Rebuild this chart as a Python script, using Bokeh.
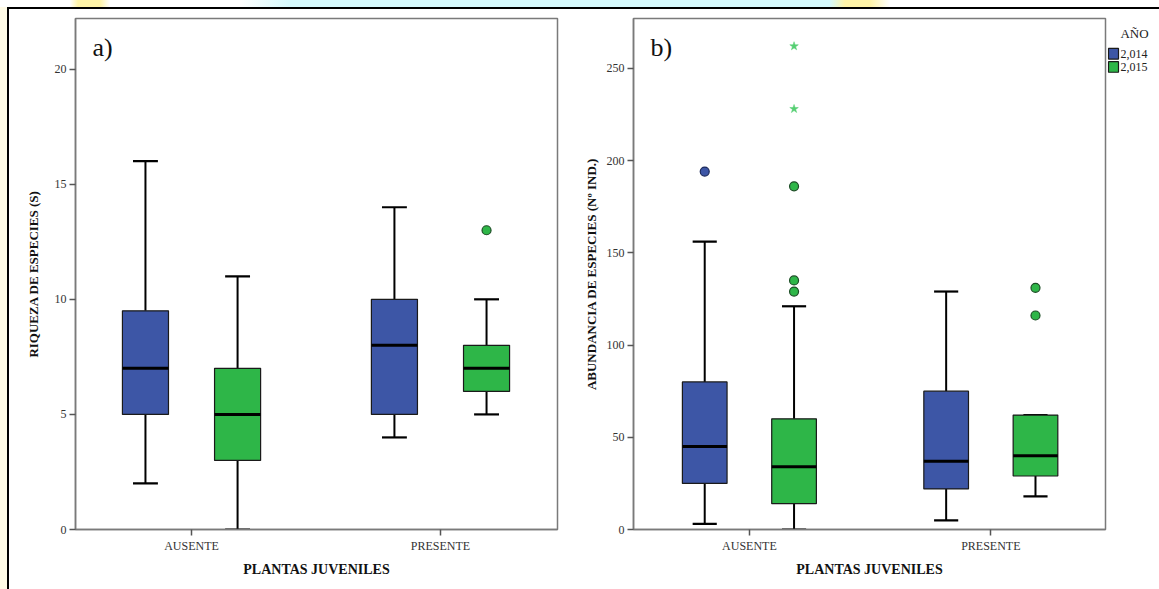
from bokeh.plotting import figure
from bokeh.models import (ColumnDataSource, Range1d, FixedTicker, Label, Div)
from bokeh.core.properties import value
from bokeh.layouts import row, column
from bokeh.embed import file_html
from bokeh.resources import INLINE

# ---------------- data ----------------
categories = ["AUSENTE", "PRESENTE"]
years = ["2,014", "2,015"]
legend_title = "AÑO"

# a) Riqueza de especies (S)
riq_2014_lower = [2, 4]
riq_2014_q1 = [5, 5]
riq_2014_median = [7, 8]
riq_2014_q3 = [9.5, 10]
riq_2014_upper = [16, 14]

riq_2015_lower = [0, 5]
riq_2015_q1 = [3, 6]
riq_2015_median = [5, 7]
riq_2015_q3 = [7, 8]
riq_2015_upper = [11, 10]
riq_2015_out_cat = ["PRESENTE"]
riq_2015_out_val = [13]

riq_ticks = [0, 5, 10, 15, 20]

# b) Abundancia de especies (Nº ind.)
abu_2014_lower = [3, 5]
abu_2014_q1 = [25, 22]
abu_2014_median = [45, 37]
abu_2014_q3 = [80, 75]
abu_2014_upper = [156, 129]
abu_2014_out_cat = ["AUSENTE"]
abu_2014_out_val = [194]

abu_2015_lower = [0, 18]
abu_2015_q1 = [14, 29]
abu_2015_median = [34, 40]
abu_2015_q3 = [60, 62]
abu_2015_upper = [121, 62]
abu_2015_out_cat = ["AUSENTE", "AUSENTE", "AUSENTE", "PRESENTE", "PRESENTE"]
abu_2015_out_val = [186, 135, 129, 131, 116]
abu_2015_ext_cat = ["AUSENTE", "AUSENTE"]
abu_2015_ext_val = [262, 228]

abu_ticks = [0, 50, 100, 150, 200, 250]

# ---------------- style ----------------
SERIF = "Liberation Serif"
COL_2014 = "#3d56a6"
COL_2015 = "#2eb648"
COL_EXT = "#55cf72"
YEAR_COLORS = [COL_2014, COL_2015]
BOX_W = 0.185
OFFSET = 0.185
CAP_W = 0.1


def cat_pos(cat_list, off):
    return [categories.index(c) + 1 + off for c in cat_list]


def draw_series(p, lower, q1, med, q3, upper, color, off):
    x = [i + 1 + off for i in range(len(categories))]
    src = ColumnDataSource(dict(
        x=x, lower=lower, q1=q1, med=med, q3=q3, upper=upper,
        cl=[v - CAP_W / 2 for v in x], cr=[v + CAP_W / 2 for v in x],
        bl=[v - BOX_W / 2 for v in x], br=[v + BOX_W / 2 for v in x],
    ))
    p.segment(x0="x", y0="lower", x1="x", y1="q1", source=src,
              line_color="black", line_width=2)
    p.segment(x0="x", y0="q3", x1="x", y1="upper", source=src,
              line_color="black", line_width=2)
    p.segment(x0="cl", y0="lower", x1="cr", y1="lower", source=src,
              line_color="black", line_width=2.2)
    p.segment(x0="cl", y0="upper", x1="cr", y1="upper", source=src,
              line_color="black", line_width=2.2)
    r = p.vbar(x="x", width=BOX_W, bottom="q1", top="q3", source=src,
               fill_color=color, line_color="#1a1a1a", line_width=1.2)
    p.segment(x0="bl", y0="med", x1="br", y1="med", source=src,
              line_color="black", line_width=3)
    return r


def style_panel(p, ylabel, ticks, tag):
    p.xgrid.visible = False
    p.ygrid.visible = False
    p.outline_line_color = "#7a7a7a"
    p.outline_line_width = 1.5
    p.background_fill_color = "white"
    p.border_fill_color = "white"
    for ax in (p.xaxis[0], p.yaxis[0]):
        ax.axis_line_color = "#7a7a7a"
        ax.axis_line_width = 1.5
        ax.major_tick_line_color = "#555555"
        ax.major_tick_line_width = 1.5
        ax.major_tick_in = 0
        ax.major_tick_out = 6
        ax.minor_tick_line_color = None
        ax.major_label_text_font = SERIF
        ax.major_label_text_font_size = "12px"
        ax.major_label_text_color = "#333333"
        ax.axis_label_text_font = SERIF
        ax.axis_label_text_font_style = "bold"
        ax.axis_label_text_color = "#111111"
    p.xaxis.ticker = FixedTicker(ticks=[1, 2])
    p.xaxis.major_label_overrides = {i + 1: c for i, c in enumerate(categories)}
    p.xaxis.axis_label = "PLANTAS JUVENILES"
    p.xaxis.axis_label_text_font_size = "14px"
    p.xaxis.major_label_standoff = 3
    p.xaxis.axis_label_standoff = 6
    p.yaxis.ticker = FixedTicker(ticks=ticks)
    p.yaxis.axis_label = ylabel
    p.yaxis.axis_label_text_font_size = "13px"
    p.yaxis.major_label_standoff = 3
    p.add_layout(Label(x=17, y=497, x_units="screen", y_units="screen", text=tag,
                       text_font=SERIF, text_font_size="26px", text_color="#111111",
                       text_baseline="top"))


# ---------------- panel a ----------------
p1 = figure(width=571, height=580, x_range=Range1d(0.534, 2.47), y_range=Range1d(0, 22.2),
            output_backend="svg", toolbar_location=None,
            min_border_left=66, min_border_right=23, min_border_top=9, min_border_bottom=60)
draw_series(p1, riq_2014_lower, riq_2014_q1, riq_2014_median, riq_2014_q3, riq_2014_upper,
            COL_2014, -OFFSET)
draw_series(p1, riq_2015_lower, riq_2015_q1, riq_2015_median, riq_2015_q3, riq_2015_upper,
            COL_2015, OFFSET)
p1.scatter(x=cat_pos(riq_2015_out_cat, OFFSET), y=riq_2015_out_val, marker="circle", size=9,
           fill_color=COL_2015, line_color="#1d4d26", line_width=1.2)
style_panel(p1, "RIQUEZA DE ESPECIES (S)", riq_ticks, "a)")
p1.yaxis.axis_label_standoff = 11

# ---------------- panel b ----------------
p2 = figure(width=527, height=580, x_range=Range1d(0.52, 2.475), y_range=Range1d(0, 277),
            output_backend="svg", toolbar_location=None,
            min_border_left=48, min_border_right=2, min_border_top=9, min_border_bottom=60)
draw_series(p2, abu_2014_lower, abu_2014_q1, abu_2014_median, abu_2014_q3,
            abu_2014_upper, COL_2014, -OFFSET)
draw_series(p2, abu_2015_lower, abu_2015_q1, abu_2015_median, abu_2015_q3,
            abu_2015_upper, COL_2015, OFFSET)
p2.scatter(x=cat_pos(abu_2014_out_cat, -OFFSET), y=abu_2014_out_val, marker="circle", size=9,
           fill_color=COL_2014, line_color="#1c2a5c", line_width=1.2)
p2.scatter(x=cat_pos(abu_2015_out_cat, OFFSET), y=abu_2015_out_val, marker="circle", size=9,
           fill_color=COL_2015, line_color="#1d4d26", line_width=1.2)
p2.scatter(x=cat_pos(abu_2015_ext_cat, OFFSET), y=abu_2015_ext_val, marker="star", size=9,
           fill_color=COL_EXT, line_color=COL_EXT, line_width=0.5)
style_panel(p2, "ABUNDANCIA DE ESPECIES (Nº IND.)", abu_ticks, "b)")
p2.yaxis.axis_label_standoff = 5

# ---------------- legend strip (right of panel b) ----------------
# pixel-like ranges: x from the strip's left edge, y downwards from its top
p3 = figure(width=52, height=580, x_range=Range1d(0, 52), y_range=Range1d(580, 0),
            output_backend="svg", toolbar_location=None,
            x_axis_location=None, y_axis_location=None,
            min_border_left=0, min_border_right=0, min_border_top=0, min_border_bottom=0)
p3.xgrid.visible = False
p3.ygrid.visible = False
p3.outline_line_color = None
p3.border_fill_color = "white"
p3.background_fill_color = "white"
leg_y = [40 + 15 * i for i in range(len(years))]
leg_src = ColumnDataSource(dict(label=years, color=YEAR_COLORS, y=leg_y,
                                xs=[6] * len(years), xt=[13] * len(years)))
p3.rect(x="xs", y="y", width=10, height=12, source=leg_src,
        fill_color="color", line_color="#1a1a1a", line_width=1.2)
p3.text(x="xt", y="y", text="label", source=leg_src,
        text_font=value(SERIF), text_font_size="12px", text_color="#222222",
        text_baseline="middle", text_align="left")
p3.text(x=[27], y=[17], text=[legend_title],
        text_font=value(SERIF), text_font_size="13px", text_color="#222222",
        text_baseline="middle", text_align="center")

# ---------------- page frame ----------------
top_strip = Div(width=1159, height=7, margin=0, styles={
    "background": "linear-gradient(90deg, #ffffff 0px, #ffffff 70px, #fff4a8 78px, #fff4a8 100px, "
                  "#ffffff 110px, #ffffff 240px, #d6fafd 290px, #d6fafd 830px, #fff4a8 845px, "
                  "#fff4a8 870px, #ffffff 890px)"})
left_strip = Div(width=7, height=582, margin=0, styles={"background-color": "#fffbe6"})
left_line = Div(width=2, height=582, margin=0, styles={"background-color": "#000000"})
top_line = Div(width=1150, height=2, margin=0, styles={"background-color": "#000000"})

layout = column(top_strip,
                row(left_strip, left_line,
                    column(top_line, row(p1, p2, p3, spacing=0, margin=0),
                           spacing=0, margin=0),
                    spacing=0, margin=0),
                spacing=0, margin=0)

open("out.html", "w").write(file_html(layout, INLINE))
